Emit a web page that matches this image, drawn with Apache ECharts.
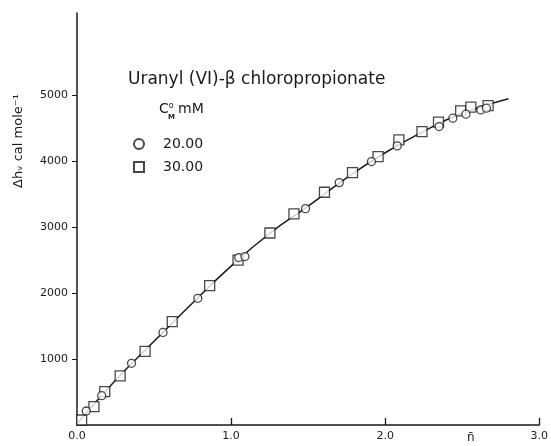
<!DOCTYPE html>
<html>
<head>
<meta charset="utf-8">
<script src="https://cdn.jsdelivr.net/npm/echarts@6/dist/echarts.min.js"></script>
<style>
  html, body { margin: 0; padding: 0; background: #fff; }
  #chart { width: 551px; height: 446px; }
</style>
</head>
<body>
<div id="chart"></div>
<script>
// n-bar vs enthalpy
var circlePts = [
  [0.06, 212], [0.16, 445], [0.354, 936], [0.558, 1404], [0.784, 1922],
  [1.05, 2540], [1.09, 2555], [1.483, 3282], [1.702, 3677], [1.911, 3996],
  [2.078, 4234], [2.35, 4527], [2.439, 4654], [2.524, 4715], [2.621, 4780],
  [2.657, 4806]
];
var squarePts = [
  [0.03, 76], [0.11, 280], [0.18, 505], [0.28, 746], [0.442, 1118],
  [0.618, 1568], [0.861, 2114], [1.045, 2500], [1.252, 2913], [1.408, 3202],
  [1.606, 3531], [1.788, 3829], [1.954, 4072], [2.089, 4325], [2.239, 4451],
  [2.346, 4594], [2.49, 4765], [2.556, 4821], [2.668, 4845]
];
var fitCurve = [
  [0, 20], [0.25, 680], [0.5, 1270], [0.75, 1850], [1.0, 2410], [1.25, 2905],
  [1.5, 3320], [1.75, 3750], [2.0, 4130], [2.25, 4455], [2.5, 4730], [2.8, 4950]
];
var xTicks = [0, 1, 2, 3];
var yTicks = [1000, 2000, 3000, 4000, 5000];

var chart = echarts.init(document.getElementById('chart'));
var ink = '#1a1a1a';
var font = 'DejaVu Sans';

chart.setOption({
  animation: false,
  backgroundColor: '#fff',
  grid: { left: 77, right: 8, top: 13, bottom: 21, containLabel: false },
  xAxis: {
    type: 'value', min: 0, max: 3, interval: 1,
    axisLine: { lineStyle: { color: ink, width: 1.5 } },
    axisTick: { inside: true, length: 7, customValues: xTicks.slice(1), lineStyle: { color: ink, width: 1.3 } },
    axisLabel: { customValues: xTicks, margin: 6, color: ink, fontFamily: font, fontSize: 11,
      formatter: function (v) { return v.toFixed(1); } },
    splitLine: { show: false }
  },
  yAxis: {
    type: 'value', min: 0, max: 6250,
    axisLine: { lineStyle: { color: ink, width: 1.5 } },
    axisTick: { length: 5, customValues: yTicks, lineStyle: { color: ink, width: 1 } },
    axisLabel: { customValues: yTicks, margin: 9, color: ink, fontFamily: font, fontSize: 11,
      formatter: function (v) { return String(v); } },
    splitLine: { show: false }
  },
  legend: {
    data: ['20.00', '30.00'],
    orient: 'vertical', left: 128, top: 132,
    itemWidth: 10, itemHeight: 10, itemGap: 9,
    textStyle: { color: ink, fontFamily: font, fontSize: 14, padding: [0, 0, 0, 14] }
  },
  graphic: [
    { type: 'text', left: 128, top: 71,
      style: { text: 'Uranyl (VI)-\u03b2 chloropropionate', fill: ink, font: '17px ' + font } },
    { type: 'text', left: 159, top: 102,
      style: { text: '{b|C}{s|o}{b| mM}', fill: ink,
        rich: { b: { fontSize: 14, fontFamily: font, fill: ink },
                s: { fontSize: 8, fontFamily: font, fill: ink, verticalAlign: 'top' } } } },
    { type: 'text', left: 168, top: 114,
      style: { text: 'M', fill: ink, font: 'bold 7px ' + font } },
    { type: 'text', left: 467, top: 432,
      style: { text: 'n\u0304', fill: ink, font: '12px ' + font } },
    { type: 'text', x: 12, y: 188, rotation: Math.PI / 2,
      style: { text: '\u0394h\u1d65 cal mole\u207b\u00b9', fill: ink, font: '13px ' + font } }
  ],
  series: [
    {
      type: 'line', data: fitCurve, smooth: true, showSymbol: false, silent: true,
      lineStyle: { color: ink, width: 1.5 }, z: 1
    },
    {
      name: '20.00', type: 'scatter', data: circlePts, symbol: 'circle', symbolSize: 8,
      itemStyle: { color: '#fff', borderColor: ink, borderWidth: 1.3 }, z: 3
    },
    {
      name: '30.00', type: 'scatter', data: squarePts, symbol: 'rect', symbolSize: 10,
      itemStyle: { color: '#fff', borderColor: ink, borderWidth: 1.3 }, z: 2
    }
  ]
});
</script>
</body>
</html>
